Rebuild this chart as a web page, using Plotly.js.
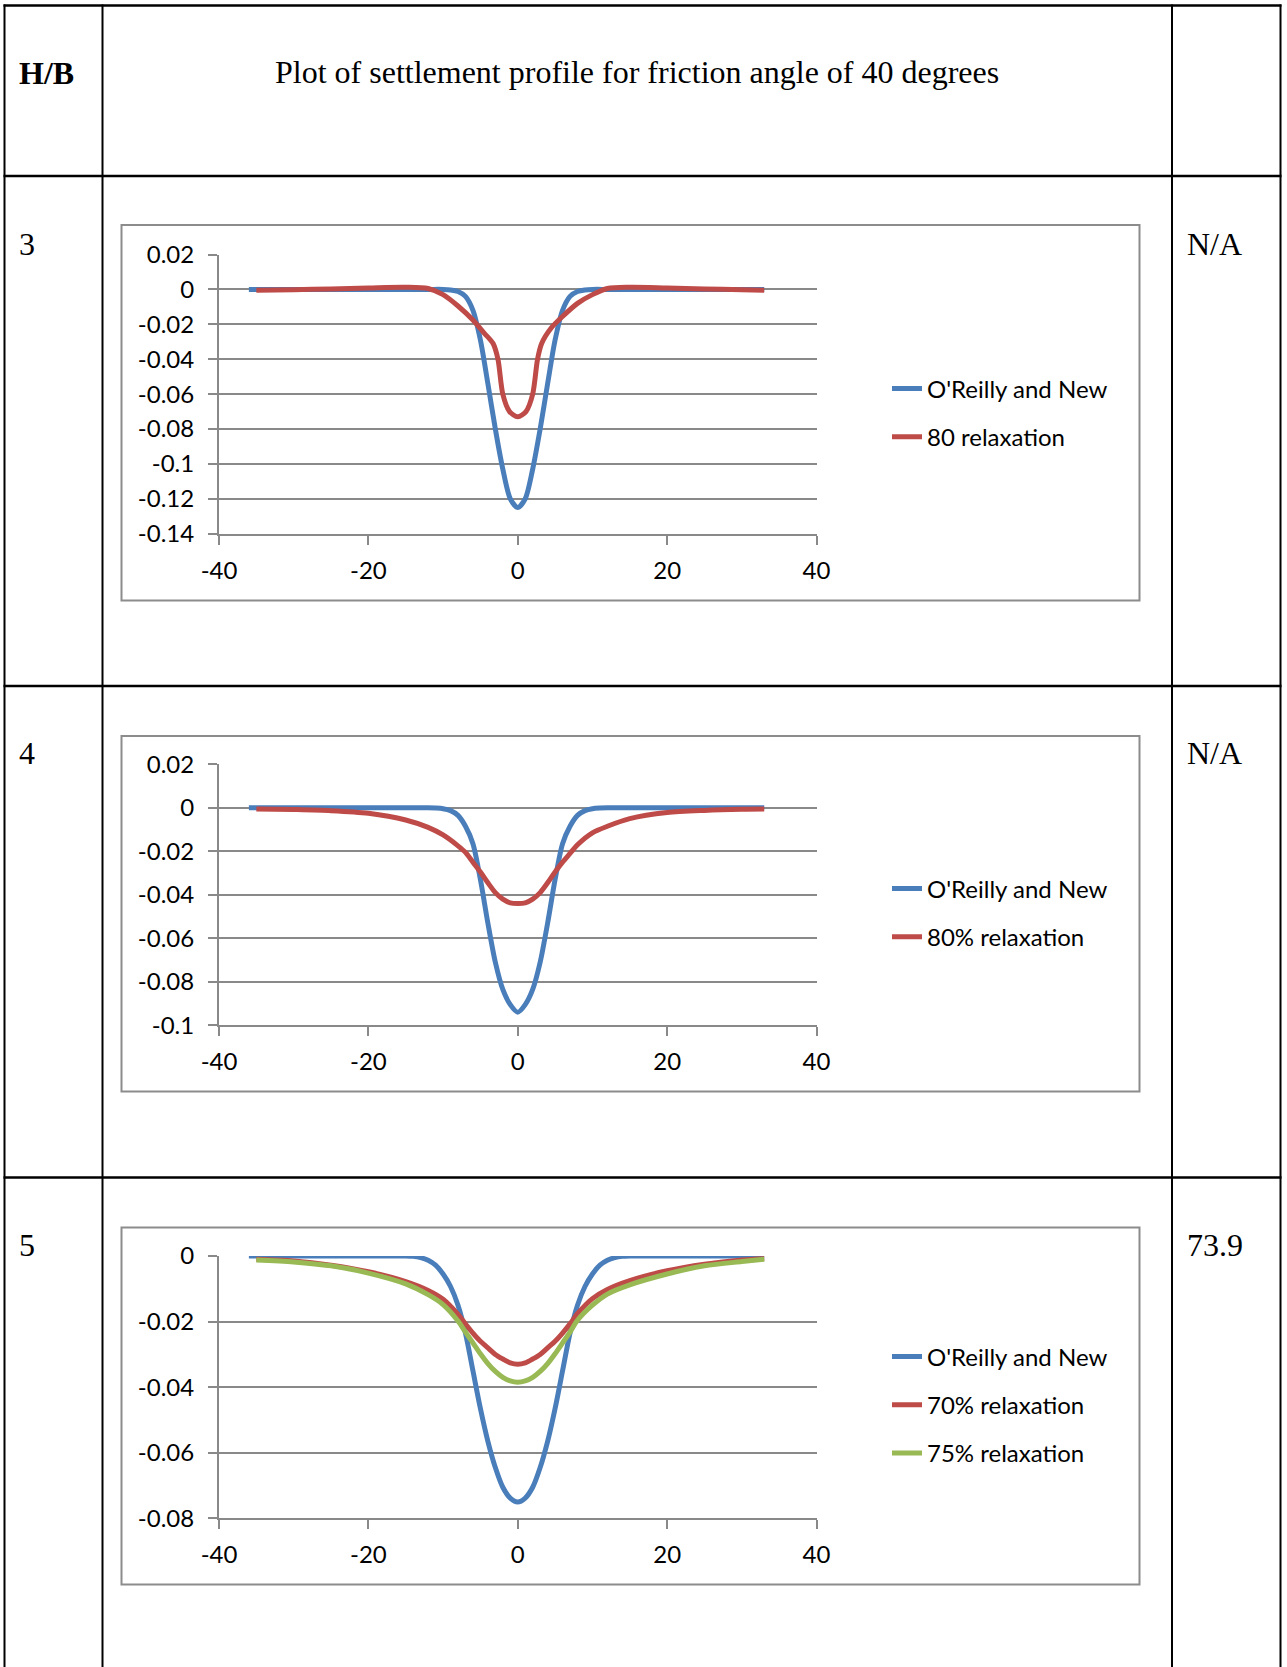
<!DOCTYPE html>
<html>
<head>
<meta charset="utf-8">
<script src="https://cdn.plot.ly/plotly-3.0.1.min.js"></script>
<style>
html,body{margin:0;padding:0;background:#fff;}
#chart{width:1287px;height:1667px;}
</style>
</head>
<body>
<div id="chart"></div>
<script>
// ---------------- DATA ----------------
const rowLabels = ["3", "4", "5"];
const rightLabels = ["N/A", "N/A", "73.9"];
const headerLeft = "H/B";
const headerTitle = "Plot of settlement profile for friction angle of 40 degrees";

const seriesNames1 = ["O'Reilly and New", "80 relaxation"];
const seriesNames2 = ["O'Reilly and New", "80% relaxation"];
const seriesNames3 = ["O'Reilly and New", "70% relaxation", "75% relaxation"];

// H/B = 3
const x1Blue = [-36,-30,-25,-20,-15,-12,-10,-9,-8,-7,-6,-5,-4,-3,-2,-1,0,1,2,3,4,5,6,7,8,9,10,12,15,20,25,30,33];
const y1Blue = [0,0,0,0,0,0,0,-0.0003,-0.0012,-0.004,-0.012,-0.029,-0.054,-0.08,-0.103,-0.12,-0.125,-0.12,-0.103,-0.08,-0.054,-0.029,-0.012,-0.004,-0.0012,-0.0003,0,0,0,0,0,0,0];
const x1Red = [-35,-30,-25,-20,-15,-12,-10,-8,-6,-4.5,-3.3,-2.65,-2,-1.1,0,1.1,2,2.65,3.2,4.5,6,8,10,12,15,20,25,30,33];
const y1Red = [-0.0005,-0.0002,0.0003,0.0008,0.0012,0.0005,-0.003,-0.0095,-0.0175,-0.025,-0.031,-0.04,-0.06,-0.07,-0.073,-0.07,-0.06,-0.04,-0.031,-0.022,-0.0155,-0.008,-0.003,0.0005,0.0012,0.0008,0.0003,-0.0002,-0.0005];

// H/B = 4
const x2Blue = [-36,-30,-20,-15,-12,-11,-10,-9,-8,-7,-6,-5,-4,-3,-2,-1,0,1,2,3,4,5,6,7,8,9,10,11,12,15,20,30,33];
const y2Blue = [0,0,0,0,0,-0.0001,-0.0004,-0.0013,-0.0035,-0.0085,-0.0165,-0.033,-0.053,-0.071,-0.0835,-0.0905,-0.094,-0.0905,-0.0835,-0.071,-0.053,-0.033,-0.0165,-0.0085,-0.0035,-0.0013,-0.0004,-0.0001,0,0,0,0,0];
const x2Red = [-35,-30,-25,-20,-15,-12,-10,-8,-7,-6,-5,-4,-3,-2,-1,0,1,2,3,4,5,6,7,8,10,12,15,20,25,30,33];
const y2Red = [-0.0005,-0.0008,-0.0013,-0.0025,-0.0056,-0.009,-0.0125,-0.0175,-0.0205,-0.025,-0.0295,-0.0345,-0.039,-0.042,-0.0437,-0.044,-0.0437,-0.042,-0.039,-0.0345,-0.0295,-0.025,-0.021,-0.017,-0.0115,-0.0085,-0.005,-0.0022,-0.0012,-0.0007,-0.0006];

// H/B = 5
const x3Blue = [-36,-30,-20,-16,-15,-14,-13,-12,-11,-10,-9,-8,-7,-6,-5,-4,-3,-2,-1,0,1,2,3,4,5,6,7,8,9,10,11,12,13,14,15,16,20,30,33];
const y3Blue = [0,0,0,0,0,-0.0001,-0.0005,-0.0013,-0.0028,-0.0055,-0.0093,-0.015,-0.0235,-0.035,-0.0465,-0.0565,-0.0645,-0.0705,-0.0738,-0.075,-0.0738,-0.0705,-0.0645,-0.0565,-0.0465,-0.035,-0.0235,-0.015,-0.0093,-0.0055,-0.0028,-0.0013,-0.0005,-0.0001,0,0,0,0,0];
const x3Relax = [-35,-30,-25,-20,-15,-12,-10,-8,-7,-6,-5,-4,-3,-2,-1,0,1,2,3,4,5,6,7,8,10,12,15,20,25,30,33];
const y3Red70 = [-0.001,-0.0015,-0.0028,-0.0048,-0.0078,-0.0105,-0.0132,-0.0178,-0.0207,-0.0235,-0.026,-0.028,-0.03,-0.0314,-0.0326,-0.033,-0.0326,-0.0314,-0.03,-0.028,-0.026,-0.0235,-0.0207,-0.0176,-0.013,-0.0102,-0.0075,-0.0045,-0.0025,-0.0012,-0.0008];
const y3Green75 = [-0.0012,-0.0018,-0.003,-0.0052,-0.0085,-0.0118,-0.0148,-0.0198,-0.0232,-0.0265,-0.0298,-0.0328,-0.0352,-0.037,-0.0381,-0.0385,-0.0381,-0.037,-0.0352,-0.0328,-0.0298,-0.0265,-0.0232,-0.0196,-0.015,-0.0116,-0.0088,-0.0055,-0.003,-0.0017,-0.001];

const xTickVals = [-40,-20,0,20,40];
const xTickText = ["-40","-20","0","20","40"];
const y1TickVals = [0.02,0,-0.02,-0.04,-0.06,-0.08,-0.1,-0.12,-0.14];
const y1TickText = ["0.02","0","-0.02","-0.04","-0.06","-0.08","-0.1","-0.12","-0.14"];
const y2TickVals = [0.02,0,-0.02,-0.04,-0.06,-0.08,-0.1];
const y2TickText = ["0.02","0","-0.02","-0.04","-0.06","-0.08","-0.1"];
const y3TickVals = [0,-0.02,-0.04,-0.06,-0.08];
const y3TickText = ["0","-0.02","-0.04","-0.06","-0.08"];

// ---------------- LAYOUT HELPERS ----------------
const W = 1287, H = 1667;
const px = p => p / W;
const py = p => 1 - p / H;

const BLUE = "#4a7ebb", RED = "#be4b48", GREEN = "#98b954";
const GRID = "#898989";
const LW = 5;

function line(name, x, y, color, xa, ya, leg, grp) {
  return {type: "scatter", mode: "lines", name: name, x: x, y: y,
    xaxis: xa, yaxis: ya, legend: leg, legendgroup: grp,
    line: {color: color, width: LW, shape: "spline", smoothing: 0.8},
    hoverinfo: "x+y+name"};
}

const traces = [
  line(seriesNames1[0], x1Blue, y1Blue, BLUE, "x", "y", "legend", "a1"),
  line(seriesNames1[1], x1Red, y1Red, RED, "x", "y", "legend", "b1"),
  line(seriesNames2[0], x2Blue, y2Blue, BLUE, "x2", "y2", "legend2", "a2"),
  line(seriesNames2[1], x2Red, y2Red, RED, "x2", "y2", "legend2", "b2"),
  line(seriesNames3[0], x3Blue, y3Blue, BLUE, "x3", "y3", "legend3", "a3"),
  line(seriesNames3[1], x3Relax, y3Red70, RED, "x3", "y3", "legend3", "b3"),
  line(seriesNames3[2], x3Relax, y3Green75, GREEN, "x3", "y3", "legend3", "c3")
];

const tickFont = {family: "Lato, 'Open Sans', sans-serif", size: 24, color: "#000"};

function xAxis(yname, dom) {
  return {domain: dom, range: [-40, 40], anchor: yname, tickvals: xTickVals, ticktext: xTickText,
    showgrid: false, zeroline: false, showline: true, linecolor: GRID, linewidth: 2,
    ticks: "outside", ticklen: 9, tickwidth: 2, tickcolor: GRID, tickfont: tickFont,
    ticklabelstandoff: 5, fixedrange: true};
}
function yAxis(xname, dom, rng, tv, tt) {
  return {domain: dom, range: rng, anchor: xname, tickvals: tv, ticktext: tt,
    showgrid: true, gridcolor: GRID, gridwidth: 2, zeroline: false,
    showline: true, linecolor: GRID, linewidth: 2,
    ticks: "outside", ticklen: 9, tickwidth: 2, tickcolor: GRID, tickfont: tickFont,
    ticklabelstandoff: 9, fixedrange: true};
}

const xDom = [px(219), px(816.5)];

function legendAt(yc) {
  return {x: px(887), y: py(yc), xanchor: "left", yanchor: "middle",
    bgcolor: "rgba(0,0,0,0)", borderwidth: 0,
    font: {family: "Lato, 'Open Sans', sans-serif", size: 24, color: "#000"},
    traceorder: "grouped", tracegroupgap: 14, itemwidth: 30};
}

// table lines
const shapes = [];
function hline(y, x0, x1, w) { shapes.push({type: "line", xref: "paper", yref: "paper", x0: px(x0), x1: px(x1), y0: py(y), y1: py(y), line: {color: "#000", width: w}}); }
function vline(x, y0, y1, w) { shapes.push({type: "line", xref: "paper", yref: "paper", x0: px(x), x1: px(x), y0: py(y0), y1: py(y1), line: {color: "#000", width: w}}); }
hline(5.5, 3.5, 1281.5, 2.5);
hline(176, 3.5, 1281.5, 2.5);
hline(686, 3.5, 1281.5, 2.5);
hline(1177.5, 3.5, 1281.5, 2.5);
vline(4.5, 4.5, 1667, 2);
vline(102.5, 4.5, 1667, 2);
vline(1172, 4.5, 1667, 2);
vline(1280.5, 4.5, 1667, 2);
// chart frames
function box(y0, y1) { shapes.push({type: "rect", xref: "paper", yref: "paper", x0: px(121.5), x1: px(1139.5), y0: py(y1), y1: py(y0), line: {color: "#8c8c8c", width: 2}, fillcolor: "rgba(0,0,0,0)", layer: "below"}); }
box(225, 600.5);
box(736, 1091.5);
box(1227.5, 1584.5);

const serif = "'Liberation Serif', 'Times New Roman', serif";
const annotations = [];
function txt(t, x, y, anchor, size, bold) {
  annotations.push({text: bold ? "<b>" + t + "</b>" : t, xref: "paper", yref: "paper", x: px(x), y: py(y),
    xanchor: anchor, yanchor: "middle", showarrow: false, font: {family: serif, size: size, color: "#000"}});
}
txt(headerLeft, 17, 73, "left", 32, true);
txt(headerTitle, 636.5, 72, "center", 32, false);
txt(rowLabels[0], 17, 244, "left", 32, false);
txt(rowLabels[1], 17, 753, "left", 32, false);
txt(rowLabels[2], 17, 1245, "left", 32, false);
txt(rightLabels[0], 1185, 244, "left", 32, false);
txt(rightLabels[1], 1185, 753, "left", 32, false);
txt(rightLabels[2], 1185, 1245, "left", 32, false);

const layout = {
  width: W, height: H, margin: {l: 0, r: 0, t: 0, b: 0},
  paper_bgcolor: "#fff", plot_bgcolor: "rgba(0,0,0,0)",
  showlegend: true,
  xaxis: xAxis("y", xDom),
  yaxis: yAxis("x", [py(533.7), py(254.5)], [-0.14, 0.02], y1TickVals, y1TickText),
  xaxis2: xAxis("y2", xDom),
  yaxis2: yAxis("x2", [py(1025.3), py(764.3)], [-0.1, 0.02], y2TickVals, y2TickText),
  xaxis3: xAxis("y3", xDom),
  yaxis3: yAxis("x3", [py(1518.4), py(1256)], [-0.08, 0], y3TickVals, y3TickText),
  legend: legendAt(413),
  legend2: legendAt(913),
  legend3: legendAt(1405),
  shapes: shapes,
  annotations: annotations
};

Plotly.newPlot("chart", traces, layout, {displayModeBar: false, responsive: false});
</script>
</body>
</html>
